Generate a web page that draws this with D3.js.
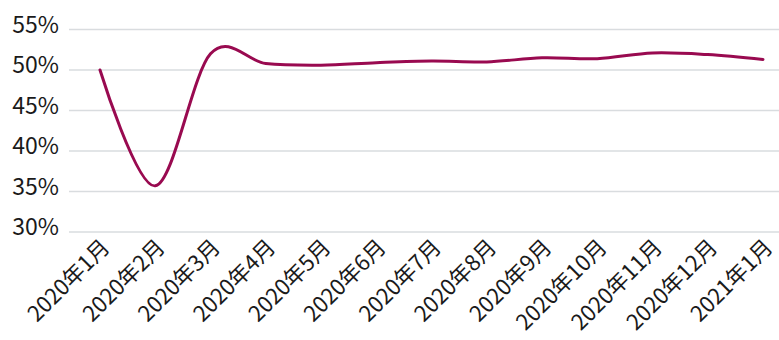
<!DOCTYPE html>
<html>
<head>
<meta charset="utf-8">
<script src="https://cdn.jsdelivr.net/npm/d3@7"></script>
<style>
  html, body { margin: 0; padding: 0; background: #fff; }
  svg { display: block; }
</style>
</head>
<body>
<svg id="chart" width="779" height="340"></svg>
<script>
// Monthly index values (%)
const months = ["2020年1月", "2020年2月", "2020年3月", "2020年4月", "2020年5月", "2020年6月",
                "2020年7月", "2020年8月", "2020年9月", "2020年10月", "2020年11月", "2020年12月", "2021年1月"];
const values = [50.0, 35.7, 52.0, 50.8, 50.6, 50.9, 51.1, 51.0, 51.5, 51.4, 52.1, 51.9, 51.3];
const yTicks = [30, 35, 40, 45, 50, 55];

const svg = d3.select("#chart");
const W = 779;
const font = "'Noto Sans CJK SC', 'Noto Sans', sans-serif";

const x = d3.scalePoint().domain(months).range([100, 763]);
const y = d3.scaleLinear().domain([30, 55]).range([232, 29.5]);

// Horizontal gridlines
svg.append("g")
  .selectAll("line")
  .data(yTicks)
  .join("line")
  .attr("x1", 69).attr("x2", W)
  .attr("y1", d => y(d)).attr("y2", d => y(d))
  .attr("stroke", "#d9dcdf").attr("stroke-width", 1.3);

// Y axis labels
const yAxis = svg.append("g")
  .attr("transform", "translate(59,0)")
  .call(d3.axisLeft(y).tickValues(yTicks).tickFormat(d => d + "%").tickSize(0).tickPadding(0));
yAxis.select(".domain").remove();
yAxis.selectAll("text")
  .attr("font-family", font).attr("font-size", 23).attr("fill", "#1a1a1a")
  .attr("dy", "0.12em");

// X axis labels, rotated
const xAxis = svg.append("g")
  .attr("transform", "translate(0,240)")
  .call(d3.axisBottom(x).tickSize(0).tickPadding(0));
xAxis.select(".domain").remove();
xAxis.selectAll("text")
  .attr("font-family", font).attr("font-size", 22).attr("fill", "#1a1a1a")
  .attr("text-anchor", "end")
  .attr("dy", "0.75em")
  .attr("transform", "translate(-1,-3) rotate(-45)");

// Smoothed line
const line = d3.line()
  .x((d, i) => x(months[i]))
  .y(d => y(d))
  .curve(d3.curveCardinal.tension(0));

svg.append("path")
  .datum(values)
  .attr("d", line)
  .attr("fill", "none")
  .attr("stroke", "#990a50")
  .attr("stroke-width", 3)
  .attr("stroke-linecap", "round");
</script>
</body>
</html>
